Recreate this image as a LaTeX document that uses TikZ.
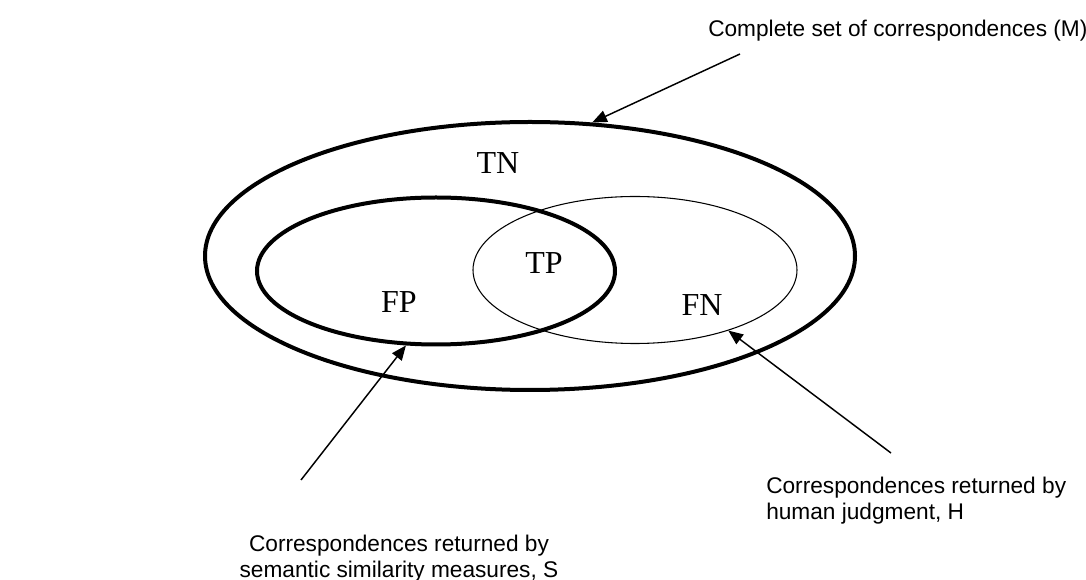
\documentclass[tikz,border=0pt]{standalone}
\usepackage{fontspec}
\setmainfont{Liberation Serif}
\newfontfamily\arial{Liberation Sans}
\usetikzlibrary{shapes.geometric,arrows.meta}
\tikzset{
  setthick/.style={draw, ellipse, line width=3pt, inner sep=0pt},
  setthin/.style={draw, ellipse, line width=0.8pt, inner sep=0pt},
  region/.style={font=\fontsize{24}{28}\selectfont, inner sep=0pt},
  caption/.style={font=\arial\fontsize{17}{19}\selectfont, inner sep=0pt},
  pointer/.style={line width=1.1pt, -{Triangle[length=11pt,width=9pt]}}
}
\begin{document}
\begin{tikzpicture}[x=0.75pt,y=-0.75pt]
\useasboundingbox (0,0) rectangle (1086,580);
% sets
\node[setthick, minimum width=650*0.75pt, minimum height=268*0.75pt] (M) at (530,256) {};
\node[setthin, minimum width=324*0.75pt, minimum height=147*0.75pt] (H) at (635,270) {};
\node[setthick, minimum width=358*0.75pt, minimum height=147*0.75pt] (S) at (436,271) {};
% region labels
\node[region] (tn) at (498,163) {TN};
\node[region] (tp) at (544,263) {TP};
\node[region] (fp) at (399,302) {FP};
\node[region] (fn) at (702,305) {FN};
% captions
\node[caption, anchor=base west] (capM) at (708,37) {Complete set of correspondences (M)};
\node[caption, anchor=north west, align=left] (capH) at (766,477) {Correspondences returned by\\human judgment, H};
\node[caption, anchor=north, align=center] (capS) at (399,535) {Correspondences returned by\\semantic similarity measures, S};
% pointers
\coordinate (tM) at (740,54);
\coordinate (tS) at (301,480);
\coordinate (tH) at (891,453);
\draw[pointer] (tM) -- (M.65.5);
\draw[pointer] (tS) -- (S.248);
\draw[pointer] (tH) -- (H.327);
\end{tikzpicture}
\end{document}
